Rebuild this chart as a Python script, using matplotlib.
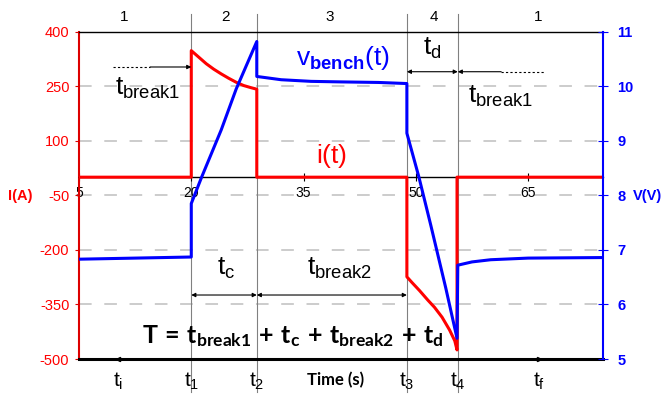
import matplotlib
matplotlib.use("Agg")
import matplotlib.pyplot as plt
from matplotlib import transforms

plt.rcParams['font.family'] = ['Liberation Sans', 'DejaVu Sans']
plt.rcParams['mathtext.fontset'] = 'custom'
plt.rcParams['mathtext.rm'] = 'Liberation Sans'
plt.rcParams['mathtext.it'] = 'Liberation Sans'
plt.rcParams['mathtext.bf'] = 'Liberation Sans:bold'
plt.rcParams['axes.unicode_minus'] = False

# switching instants (s)
t1, t2, t3, t4 = 20.0, 28.75, 48.8, 55.6

# current i(t) in A
i_time = [5, 20, 20, 21, 22, 23, 24, 25, 26, 27, 28, 28.75, 28.75,
          48.8, 48.8, 49.5, 50.5, 51.6, 52.5, 53.5, 54.5, 55.2, 55.5, 55.5, 75]
i_vals = [0, 0, 348, 330, 312, 297, 284, 272, 261, 252, 246, 242, 0,
          0, -274, -290, -312, -338, -358, -385, -420, -450, -475, 0, 0]

# voltage v_bench(t) in V
v_time = [5, 20, 20, 21.4, 24, 26, 28.75, 28.75, 32, 36, 40, 45, 48.8,
          48.8, 50.4, 52, 54, 55.5, 55.6, 57.5, 60, 65, 75]
v_vals = [6.83, 6.87, 7.85, 8.34, 9.2, 9.95, 10.82, 10.18, 10.12, 10.09, 10.08, 10.07, 10.05,
          9.14, 8.34, 7.45, 6.3, 5.38, 6.72, 6.78, 6.82, 6.85, 6.86]

i_ticks = [-500, -350, -200, -50, 100, 250, 400]
v_ticks = [5, 6, 7, 8, 9, 10, 11]
x_ticks = [5, 20, 35, 50, 65]

phase_x = [11, 24.6, 38.5, 52.4, 66.4]
phase_lbl = ['1', '2', '3', '4', '1']

bottom_x = [10.2, t1, t2, t3, t4, 66.4]
bottom_lbl = [r'$\mathregular{t_i}$', r'$\mathregular{t_1}$', r'$\mathregular{t_2}$',
              r'$\mathregular{t_3}$', r'$\mathregular{t_4}$', r'$\mathregular{t_f}$']

fig = plt.figure(figsize=(6.66, 3.95), dpi=100)
ax = fig.add_axes([0.1186, 0.0911, 0.7868, 0.8286])
ax2 = ax.twinx()

ax.set_xlim(5, 75)
ax.set_ylim(-500, 400)
ax2.set_ylim(5, 11)

# dashed grid
for y in i_ticks[1:-1]:
    ax.axhline(y, color='#c8c8c8', lw=1.3, dashes=(7, 7), zorder=0)

# phase boundaries
for tx in [t1, t2, t3, t4]:
    ax.axvline(tx, ymin=-0.10, ymax=1.055, color='#808080', lw=0.8, clip_on=False, zorder=1)

ax.plot(i_time, i_vals, color='#ff0000', lw=2.2, zorder=3)
ax2.plot(v_time, v_vals, color='#0000ff', lw=2.2, zorder=3)

# spines
ax.spines['bottom'].set_position(('data', 0))
ax.spines['bottom'].set_linewidth(1.0)
ax.spines['top'].set_linewidth(1.0)
ax.spines['left'].set_color('#dd0000')
ax.spines['left'].set_linewidth(1.5)
ax.spines['right'].set_visible(False)
for s in ['top', 'bottom', 'left']:
    ax2.spines[s].set_visible(False)
ax2.spines['right'].set_color('#0000ff')
ax2.spines['right'].set_linewidth(1.5)
ax.axhline(-500, color='black', lw=2.2, clip_on=False, zorder=4)

ax.set_xticks(x_ticks)
ax.set_yticks(i_ticks)
ax.tick_params(axis='x', direction='inout', length=6, labelsize=10, pad=3)
ax.tick_params(axis='y', colors='#ff0000', length=3, labelsize=10.5, pad=4)
ax.tick_params(axis='y', color='#dd0000')
ax2.set_yticks(v_ticks)
ax2.tick_params(axis='y', colors='#0000ff', direction='inout', length=7, labelsize=10.5, pad=7)
for lb in ax2.get_yticklabels():
    lb.set_fontweight('bold')

fig.text(0.030, 0.505, 'I(A)', color='#ff0000', fontsize=10.5, fontweight='bold', ha='center', va='center')
fig.text(0.972, 0.505, 'V(V)', color='#0000ff', fontsize=10.5, fontweight='bold', ha='center', va='center')

trans = transforms.blended_transform_factory(ax.transData, ax.transAxes)
for x, s in zip(phase_x, phase_lbl):
    ax.text(x, 1.032, s, transform=trans, ha='center', va='baseline', fontsize=11)
for x, s in zip(bottom_x, bottom_lbl):
    ax.text(x, -0.085, s, transform=trans, ha='center', va='baseline', fontsize=15)
ax.text(39.3, -0.08, 'Time (s)', transform=trans, ha='center', va='baseline',
        fontsize=12, fontweight='bold', family='Lato')

# small arrow marks on the bottom line
ax.plot([10.2], [-500], marker='<', ms=3, color='black', clip_on=False, zorder=5)
ax.plot([66.4], [-500], marker='>', ms=3, color='black', clip_on=False, zorder=5)

# annotations
arw = dict(arrowstyle='<|-|>', color='black', lw=0.8, mutation_scale=6, shrinkA=0, shrinkB=0)
arw1 = dict(arrowstyle='-|>', color='black', lw=0.8, mutation_scale=6, shrinkA=0, shrinkB=0)

ax.plot([9.5, 14.5], [303, 303], color='black', lw=0.8, ls=(0, (2, 2)))
ax.annotate('', xy=(t1, 303), xytext=(14.5, 303), arrowprops=arw1)
ax.text(9.8, 226, r'$\mathregular{t_{break1}}$', fontsize=19, ha='left', va='baseline')

ax.annotate('', xy=(t3, 290), xytext=(t4, 290), arrowprops=arw)
ax.annotate('', xy=(t4, 290), xytext=(61.4, 290), arrowprops=arw1)
ax.plot([61.4, 67.2], [290, 290], color='black', lw=0.8, ls=(0, (2, 2)))
ax.text(51.0, 336, r'$\mathregular{t_d}$', fontsize=19, ha='left', va='baseline')
ax.text(56.9, 204, r'$\mathregular{t_{break1}}$', fontsize=19, ha='left', va='baseline')

ax.text(34.0, 308, r'$\mathregular{v}_{\mathbf{bench}}\mathregular{(t)}$', fontsize=19,
        color='#0000ff', ha='left', va='baseline')
ax.text(36.7, 39, r'$\mathregular{i(t)}$', fontsize=19, color='#ff0000', ha='left', va='baseline')

ax.annotate('', xy=(t1, -324), xytext=(t2, -324), arrowprops=arw)
ax.annotate('', xy=(t2, -324), xytext=(t3, -324), arrowprops=arw)
ax.text(23.4, -269, r'$\mathregular{t_c}$', fontsize=19, ha='left', va='baseline')
ax.text(35.4, -269, r'$\mathregular{t_{break2}}$', fontsize=19, ha='left', va='baseline')

ax.text(13.4, -457, r'$\mathregular{T\,=\,t_{break1}\,+\,t_c\,+\,t_{break2}\,+\,t_d}$',
        fontsize=18, fontweight='bold', family='Lato', ha='left', va='baseline')

fig.savefig('out.png', dpi=100)
